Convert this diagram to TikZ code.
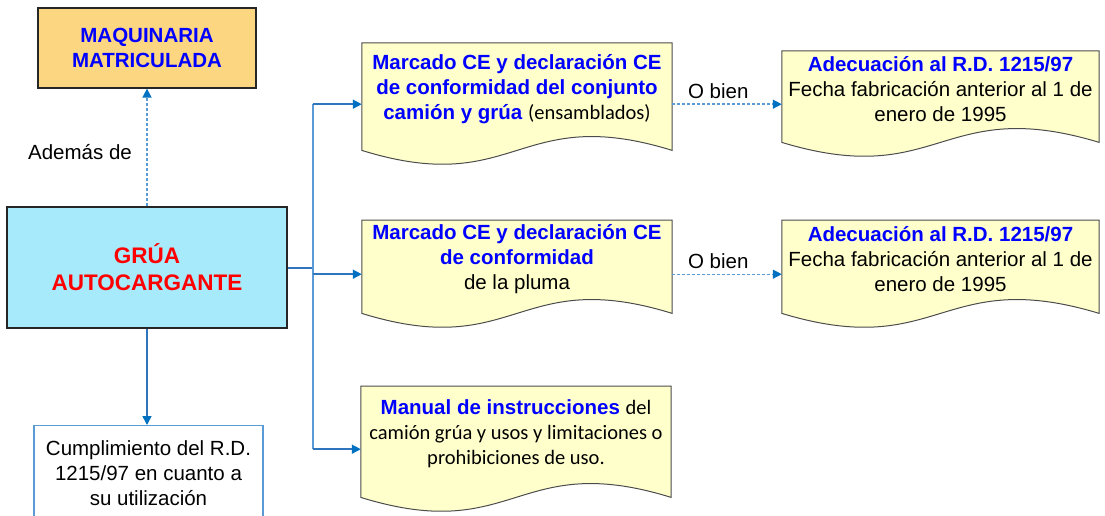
\documentclass[tikz,border=0pt]{standalone}
\usepackage{fontspec}
\setmainfont{Liberation Sans}
\newfontfamily\calfont{Carlito}
\usetikzlibrary{arrows.meta,backgrounds}

\definecolor{maqfill}{RGB}{252,214,129}
\definecolor{gruafill}{RGB}{166,234,252}
\definecolor{docfill}{RGB}{255,255,204}
\definecolor{linkblue}{RGB}{91,155,213}
\definecolor{darklink}{RGB}{46,117,190}
\definecolor{tipblue}{RGB}{0,112,192}
\definecolor{txtblue}{RGB}{0,0,255}

\tikzset{
  base/.style={align=flush center, inner sep=0pt, font=\fontsize{20.5}{25}\selectfont},
  plainbox/.style={base, draw=black!85, line width=1.2pt},
  docnode/.style={base, anchor=north, minimum width=310pt, text width=305pt},
  link/.style={draw=linkblue, line width=1.5pt},
  dashlink/.style={link, line width=1.4pt, dash pattern=on 3pt off 2pt},
  arr/.style={-{Triangle[length=9pt,width=9pt,color=tipblue]}},
}
% document shape with a wavy bottom edge
\newcommand{\wavebox}[1]{%
  \begin{pgfonlayer}{background}
  \filldraw[fill=docfill, draw=black!70, line width=1pt]
    (#1.north west) -- (#1.north east) -- ([yshift=-15pt]#1.south east)
    .. controls ([yshift=33pt]#1.south) and ([yshift=-63pt]#1.south) .. ([yshift=-15pt]#1.south west) -- cycle;
  \end{pgfonlayer}}
\newcommand{\bl}[1]{\textcolor{txtblue}{\textbf{#1}}}

\begin{document}
\begin{tikzpicture}[x=1pt,y=-1pt]
    \useasboundingbox (0,0) rectangle (1105,516);
    \clip (0,0) rectangle (1105,516);

    % left column
    \node[plainbox, fill=maqfill, minimum width=218pt, minimum height=80pt, text width=210pt] (maq) at (147,48)
        {\bl{MAQUINARIA\\MATRICULADA}};
    \node[plainbox, fill=gruafill, minimum width=280pt, minimum height=121pt, text width=270pt,
        font=\fontsize{22.5}{27}\selectfont\bfseries, text=red] (grua) at (147,267.5) {GRÚA\\AUTOCARGANTE};
    \node[base, draw=linkblue, line width=1.2pt, fill=white, anchor=north, minimum width=229pt,
        minimum height=96pt, text width=220pt] (cumpl) at (148.5,425)
        {Cumplimiento del R.D.\\1215/97 en cuanto a\\su utilización};
    \node[base] (ademas) at (80,152) {Además de};

    % documents
    \node[docnode, minimum height=92pt] (doc1) at (517,43)
        {\bl{Marcado CE y declaración CE\\de conformidad del conjunto\\camión y grúa} {\calfont (ensamblados)}};
    \node[docnode, minimum height=78pt] (doc2) at (517,220)
        {\bl{Marcado CE y declaración CE\\de conformidad}\\de la pluma};
    \node[docnode, minimum height=96pt] (doc3) at (516,386)
        {\bl{Manual de instrucciones} {\calfont del\\camión grúa y usos y limitaciones o\\prohibiciones de uso.}};
    \node[docnode, minimum width=317pt, text width=312pt, minimum height=76pt] (adec1) at (940.5,51)
        {\bl{Adecuación al R.D. 1215/97}\\Fecha fabricación anterior al 1 de\\enero de 1995};
    \node[docnode, minimum width=317pt, text width=312pt, minimum height=78pt] (adec2) at (940.5,220)
        {\bl{Adecuación al R.D. 1215/97}\\Fecha fabricación anterior al 1 de\\enero de 1995};
    \foreach \n in {doc1,doc2,doc3,adec1,adec2} {\wavebox{\n}}

    % connectors
    \draw[dashlink, arr] (grua.north) -- (maq.south);
    \draw[link, draw=darklink, arr] (grua.south) -- (grua.south |- cumpl.north);
    \coordinate (trunk) at (313,268);
    \draw[draw=darklink, line width=1.8pt] (grua.east |- trunk) -- (trunk);
    \draw[link] ([yshift=-15pt]doc1.west -| trunk) -- ([yshift=-15pt]doc3.west -| trunk);
    \foreach \n in {doc1,doc2,doc3}
        \draw[link, draw=darklink, arr] ([yshift=-15pt]\n.west -| trunk) -- ([yshift=-15pt]\n.west);
    \draw[dashlink, arr] ([yshift=-15pt]doc1.east) -- ([yshift=-15pt]doc1.east -| adec1.west)
        node[base, above=5pt, pos=0.42, text=black] (obien1) {O bien};
    \draw[dashlink, arr] ([yshift=-15pt]doc2.east) -- ([yshift=-15pt]doc2.east -| adec2.west)
        node[base, above=5pt, pos=0.42, text=black] (obien2) {O bien};
\end{tikzpicture}
\end{document}
